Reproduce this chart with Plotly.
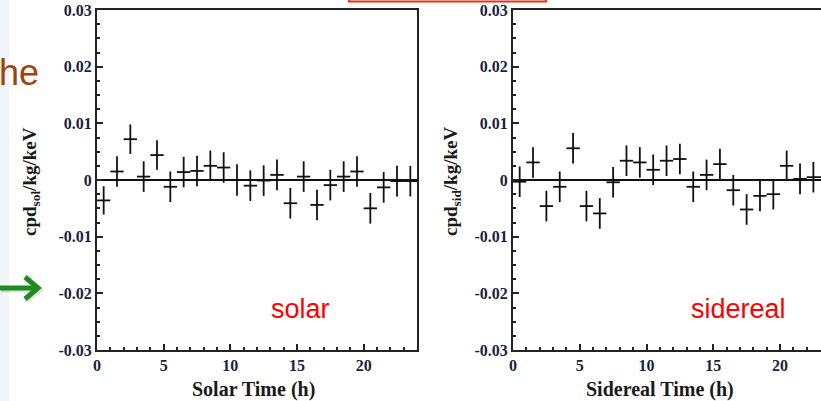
import plotly.graph_objects as go

W, H = 821, 401

# ---- data ----
hours = [i + 0.5 for i in range(24)]
half_bin = [0.5] * 24
solar = [-0.0036, 0.0015, 0.0072, 0.0006, 0.0044, -0.0012, 0.0014, 0.0016,
         0.0025, 0.0022, 0.0000, -0.0010, -0.0001, 0.0009, -0.0041, 0.0006,
         -0.0044, -0.0009, 0.0006, 0.0015, -0.0050, -0.0013, -0.0002, -0.0002]
solar_err = [0.0025, 0.0027, 0.0026, 0.0027, 0.0026, 0.0027, 0.0027, 0.0027,
             0.0027, 0.0027, 0.0028, 0.0027, 0.0027, 0.0027, 0.0027, 0.0027,
             0.0027, 0.0027, 0.0027, 0.0027, 0.0027, 0.0027, 0.0027, 0.0027]
sidereal = [-0.0003, 0.0031, -0.0046, -0.0012, 0.0056, -0.0046, -0.0059, -0.0004,
            0.0034, 0.0031, 0.0018, 0.0034, 0.0037, -0.0012, 0.0009, 0.0028,
            -0.0018, -0.0052, -0.0028, -0.0025, 0.0025, 0.0002, 0.0005, 0.0005]
sidereal_err = [0.0027] * 24
ytick_vals = [0.03, 0.02, 0.01, 0.0, -0.01, -0.02, -0.03]
ytick_text = ["0.03", "0.02", "0.01", "0", "-0.01", "-0.02", "-0.03"]
xtick_vals = [0, 5, 10, 15, 20]
xtick_text = ["0", "5", "10", "15", "20"]


def px(x):
    return x / W


def py(y):
    return 1 - y / H


fig = go.Figure()

for data, err, xa, ya in [(solar, solar_err, "x", "y"), (sidereal, sidereal_err, "x2", "y2")]:
    fig.add_trace(go.Scatter(
        x=hours, y=data, mode="markers",
        marker=dict(size=1, color="#111"),
        error_x=dict(type="data", array=half_bin, width=0, thickness=1.8, color="#111"),
        error_y=dict(type="data", array=err, width=0, thickness=1.8, color="#111"),
        xaxis=xa, yaxis=ya, showlegend=False, hoverinfo="skip"))

tickfont = dict(family="Liberation Serif", size=16, color="#1b1f3a", weight="bold")
axcol = "#222"

common_x = dict(showline=True, linewidth=2, linecolor=axcol, ticks="inside", ticklen=6,
                tickwidth=1.5, tickcolor=axcol, tickvals=xtick_vals, ticktext=xtick_text,
                tickfont=tickfont, showgrid=False, zeroline=False, automargin=False,
                minor=dict(dtick=1, tick0=0, ticks="inside", ticklen=3, tickwidth=1.5,
                           tickcolor=axcol, showgrid=False))
common_y = dict(showline=True, linewidth=2, linecolor=axcol, ticks="inside", ticklen=6,
                tickwidth=1.5, tickcolor=axcol, tickvals=ytick_vals, ticktext=ytick_text,
                tickfont=tickfont, showgrid=False, range=[-0.03, 0.03], automargin=False,
                zeroline=True, zerolinecolor="#111", zerolinewidth=1.5,
                minor=dict(dtick=0.0025, tick0=0, ticks="inside", ticklen=3, tickwidth=1.5,
                           tickcolor=axcol, showgrid=False))

fig.update_layout(
    width=W, height=H, margin=dict(l=0, r=0, t=0, b=0, autoexpand=False),
    paper_bgcolor="white", plot_bgcolor="white",
    xaxis=dict(domain=[px(97), px(417)], range=[0, 24], anchor="y", mirror=True, **common_x),
    yaxis=dict(domain=[py(350), py(10)], anchor="x", mirror=True, **common_y),
    xaxis2=dict(domain=[px(513), 1.0], range=[0, (821 - 513) / 13.35], anchor="y2", mirror=True, **common_x),
    yaxis2=dict(domain=[py(350), py(10)], anchor="x2", mirror=False, **common_y),
)

titlefont = dict(family="Liberation Serif", size=20, color="#1a1a1a")
ann = [
    dict(text="<b>Solar Time (h)</b>", x=px(253), y=py(389), font=titlefont),
    dict(text="<b>Sidereal Time (h)</b>", x=px(660), y=py(389), font=titlefont),
    dict(text="<b>cpd<sub>sol</sub>/kg/keV</b>", x=px(31), y=py(182), textangle=-90,
         font=dict(family="Liberation Serif", size=19, color="#1a1a1a")),
    dict(text="<b>cpd<sub>sid</sub>/kg/keV</b>", x=px(452), y=py(182), textangle=-90,
         font=dict(family="Liberation Serif", size=19, color="#1a1a1a")),
    dict(text="solar", x=px(300), y=py(309),
         font=dict(family="Liberation Sans", size=27, color="#ff0000")),
    dict(text="sidereal", x=px(738), y=py(309),
         font=dict(family="Liberation Sans", size=27, color="#ff0000")),
    dict(text="he", x=px(41), y=py(72), xanchor="right",
         font=dict(family="Liberation Sans", size=36, color="#a2420f")),
]
for a in ann:
    a.setdefault("xanchor", "center")
    a.setdefault("yanchor", "middle")
    fig.add_annotation(xref="paper", yref="paper", showarrow=False, **a)

shapes = [
    # pale slide strip at the far left
    dict(type="rect", x0=0, x1=px(9), y0=0, y1=1, fillcolor="#f1f5f9", line_width=0, layer="below"),
    # red box edge at the top
    dict(type="rect", x0=px(349), x1=px(546), y0=py(1.5), y1=py(-6), line=dict(color="#e8301c", width=2)),
    # green arrow (soft shadow, then arrow)
    dict(type="line", x0=px(1), x1=px(38), y0=py(290), y1=py(290), line=dict(color="rgba(0,0,0,0.12)", width=5)),
    dict(type="path", path=f"M {px(26)} {py(279)} L {px(40)} {py(290)} L {px(26)} {py(301)}",
         line=dict(color="rgba(0,0,0,0.12)", width=5)),
    dict(type="line", x0=0, x1=px(36), y0=py(288), y1=py(288), line=dict(color="#1f8a1f", width=5)),
    dict(type="path", path=f"M {px(25)} {py(277)} L {px(38)} {py(288)} L {px(25)} {py(299)}",
         line=dict(color="#1f8a1f", width=5)),
]
for s in shapes:
    s.setdefault("xref", "paper")
    s.setdefault("yref", "paper")
    fig.add_shape(**s)

fig.write_html("out.html")
